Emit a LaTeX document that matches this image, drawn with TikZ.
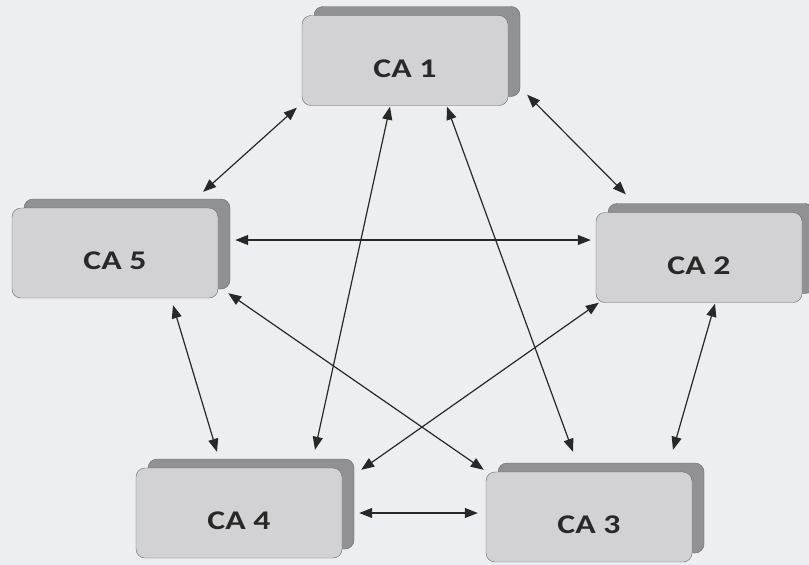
\documentclass[tikz,border=0pt]{standalone}
\usepackage{fontspec}
\setmainfont{Carlito}
\usetikzlibrary{arrows.meta, calc, shadows}
\definecolor{paper}{RGB}{236, 238, 241}
\definecolor{boxfront}{RGB}{210, 210, 212}
\definecolor{boxback}{RGB}{145, 145, 147}
\definecolor{boxline}{RGB}{105, 105, 107}
\definecolor{ink}{RGB}{40, 40, 40}
\newcommand{\calabel}[1]{\scalebox{1.25}[1]{\raisebox{-8pt}[\height][0pt]{#1}}}

\begin{document}
\begin{tikzpicture}[x=1pt, y=-1pt,
            ca/.style={rectangle, rounded corners=9pt, draw=boxline, fill=boxfront, minimum width=206pt, minimum height=90pt, inner sep=0pt, font=\fontsize{27}{27}\selectfont\bfseries, text=ink, copy shadow={shadow xshift=12pt, shadow yshift=9pt, fill=boxback, draw=boxline}},
            arrow/.style={{Triangle[length=13pt, width=10pt]}-{Triangle[length=13pt, width=10pt]}, line width=1.2pt, ink}
        ]
            \fill[paper] (0,0) rectangle (809,565);
            \useasboundingbox (0,0) rectangle (809,565);

            % Nodes
            \node[ca] (ca1) at (405,60.5) {\calabel{CA 1}};
            \node[ca] (ca2) at (699,257.5) {\calabel{CA 2}};
            \node[ca] (ca3) at (589,517) {\calabel{CA 3}};
            \node[ca] (ca4) at (239,513) {\calabel{CA 4}};
            \node[ca] (ca5) at (115,253) {\calabel{CA 5}};

            % Arrows
            \draw[arrow] ($(ca1.south west)+(-5,2)$) -- ($(ca5.north east)+(-15,-16)$);
            \draw[arrow] ($(ca1.south east)+(19,-11)$) -- ($(ca2.north west)+(30,-18)$);
            \draw[arrow] ($(ca1.south)+(-15,1)$) -- ($(ca4.north)+(76,-18)$);
            \draw[arrow] ($(ca1.south)+(42,1)$) -- ($(ca3.north)+(-16,-20)$);
            \draw[arrow] ($(ca5.east)+(17,-13)$) -- ($(ca2.west)+(-5,-17.5)$);
            \draw[arrow] ($(ca5.south)+(58,7)$) -- ($(ca4.north)+(-22,-16)$);
            \draw[arrow] ($(ca5.south east)+(10,-5)$) -- ($(ca3.north west)+(-2,-2)$);
            \draw[arrow] ($(ca2.south west)+(3,0)$) -- ($(ca4.north east)+(19,2)$);
            \draw[arrow] ($(ca2.south)+(16,1)$) -- ($(ca3.north)+(84,-22)$);
            \draw[arrow] ($(ca4.east)+(17,0)$) -- ($(ca3.west)+(-8,-4)$);
        \end{tikzpicture}
\end{document}
